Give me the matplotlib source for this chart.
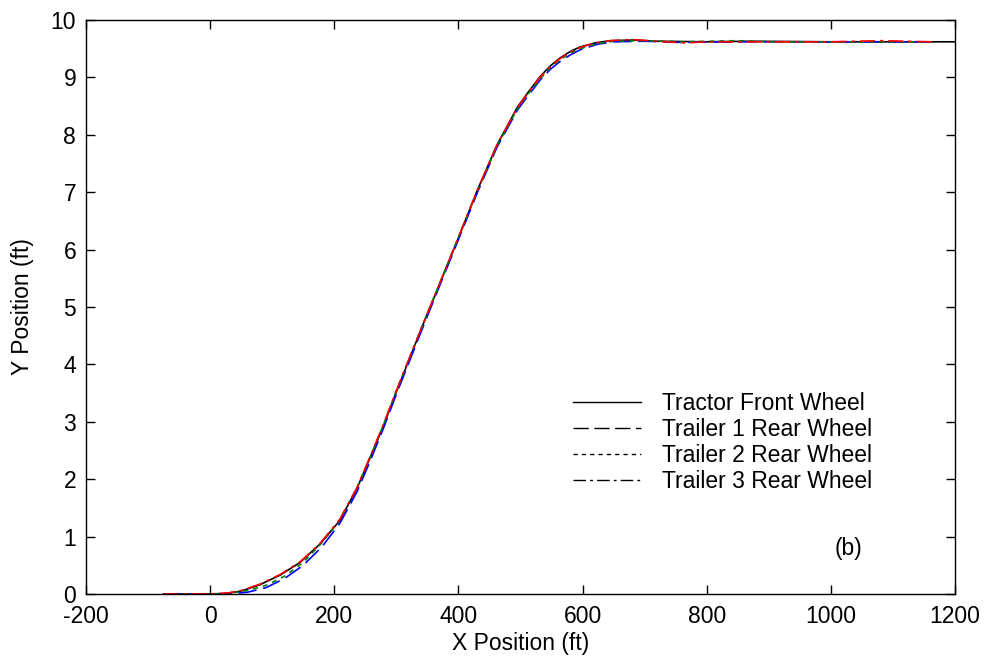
"""Off-tracking of a tractor with three trailers: wheel paths through a lane change."""

import matplotlib

matplotlib.use("Agg")

import matplotlib.pyplot as plt
from matplotlib.lines import Line2D


# Tractor front wheel path (ft)
tractor_x = [-75, 0, 25, 50, 80, 113, 145, 177, 209, 237, 258, 279, 300, 322, 344,
             366, 398, 430, 462, 495, 515, 532, 548, 564, 580, 596, 620, 645, 680,
             720, 800, 870, 1000, 1100, 1200]
tractor_y = [0.0, 0.0, 0.01, 0.05, 0.16, 0.33, 0.55, 0.87, 1.28, 1.85, 2.38, 2.92,
             3.52, 4.12, 4.72, 5.30, 6.15, 7.02, 7.82, 8.48, 8.78, 9.02, 9.20, 9.34,
             9.45, 9.53, 9.60, 9.64, 9.65, 9.63, 9.62, 9.63, 9.62, 9.62, 9.62]

# Trailer 1 rear wheel path
trailer1_x = [-75, 0, 30, 60, 90, 120, 150, 180, 209, 237, 258, 279, 300, 322, 344,
              366, 398, 430, 462, 495, 515, 532, 548, 564, 580, 596, 625, 650, 700,
              760, 800, 900, 1000, 1100, 1160]
trailer1_y = [0.0, 0.0, 0.0, 0.03, 0.11, 0.27, 0.50, 0.82, 1.23, 1.79, 2.32, 2.88,
              3.48, 4.08, 4.68, 5.27, 6.12, 6.98, 7.78, 8.43, 8.72, 8.96, 9.14, 9.28,
              9.39, 9.48, 9.58, 9.62, 9.63, 9.61, 9.62, 9.62, 9.62, 9.62, 9.62]

# Trailer 2 rear wheel path
trailer2_x = [-75, 0, 30, 60, 90, 120, 150, 180, 209, 237, 258, 279, 300, 322, 344,
              366, 398, 430, 462, 495, 515, 532, 548, 564, 580, 596, 625, 650, 700,
              760, 850, 900, 1000, 1100, 1163]
trailer2_y = [0.0, 0.0, 0.01, 0.06, 0.15, 0.31, 0.55, 0.89, 1.30, 1.86, 2.39, 2.94,
              3.54, 4.14, 4.73, 5.31, 6.16, 7.01, 7.80, 8.45, 8.75, 8.98, 9.17, 9.31,
              9.42, 9.50, 9.59, 9.63, 9.64, 9.62, 9.64, 9.62, 9.62, 9.62, 9.62]

# Trailer 3 rear wheel path
trailer3_x = [-75, 0, 30, 50, 80, 113, 145, 177, 209, 237, 258, 279, 300, 322, 344,
              366, 398, 430, 462, 495, 515, 532, 548, 564, 580, 596, 620, 645, 680,
              720, 766, 800, 900, 1000, 1080, 1163]
trailer3_y = [0.0, 0.0, 0.02, 0.06, 0.17, 0.34, 0.56, 0.88, 1.30, 1.86, 2.40, 2.95,
              3.54, 4.14, 4.73, 5.31, 6.16, 7.02, 7.82, 8.47, 8.77, 9.01, 9.19, 9.33,
              9.44, 9.52, 9.60, 9.64, 9.66, 9.63, 9.60, 9.62, 9.62, 9.62, 9.64, 9.62]

series_labels = ["Tractor Front Wheel", "Trailer 1 Rear Wheel",
                 "Trailer 2 Rear Wheel", "Trailer 3 Rear Wheel"]

FONT = "Liberation Sans"
SIZE = 16.5

DASHES = ["-", (0, (11, 4)), (0, (3, 3)), (0, (9, 3, 2, 3))]
COLORS = ["black", "blue", "green", "red"]


def main() -> None:
    plt.rcParams["font.family"] = [FONT, "DejaVu Sans"]
    plt.rcParams["axes.unicode_minus"] = False

    fig = plt.figure(figsize=(9.88, 6.58), dpi=100)
    ax = fig.add_axes([0.0870, 0.0973, 0.8796, 0.8723])

    paths = [(tractor_x, tractor_y), (trailer1_x, trailer1_y),
             (trailer2_x, trailer2_y), (trailer3_x, trailer3_y)]
    for (xs, ys), color, ls in zip(paths, COLORS, DASHES):
        ax.plot(xs, ys, color=color, linestyle=ls, linewidth=1.2)

    ax.set_xlim(-200, 1200)
    ax.set_ylim(0, 10)
    ax.set_xticks(range(-200, 1201, 200))
    ax.set_yticks(range(0, 11))

    ax.tick_params(direction="in", length=6.5, width=1.0, top=True, right=True,
                   labelsize=SIZE, colors="black")
    ax.tick_params(axis="x", pad=8)
    ax.tick_params(axis="y", pad=7)
    for spine in ax.spines.values():
        spine.set_linewidth(1.0)

    ax.set_xlabel("X Position (ft)", fontsize=SIZE, labelpad=3)
    ax.set_ylabel("Y Position (ft)", fontsize=SIZE, labelpad=12)

    # legend keys are drawn in black only
    handles = [Line2D([], [], color="black", linestyle=ls, linewidth=1.0)
               for ls in DASHES]
    ax.legend(handles, series_labels, loc="upper left",
              bbox_to_anchor=(0.5604, 0.3520), frameon=False, fontsize=SIZE,
              handlelength=2.95, handletextpad=0.95, labelspacing=0.13,
              borderpad=0, borderaxespad=0)

    ax.text(1028, 0.80, "(b)", fontsize=SIZE, ha="center", va="center")

    fig.savefig("out.png", dpi=100)
    plt.close(fig)


if __name__ == "__main__":
    main()
